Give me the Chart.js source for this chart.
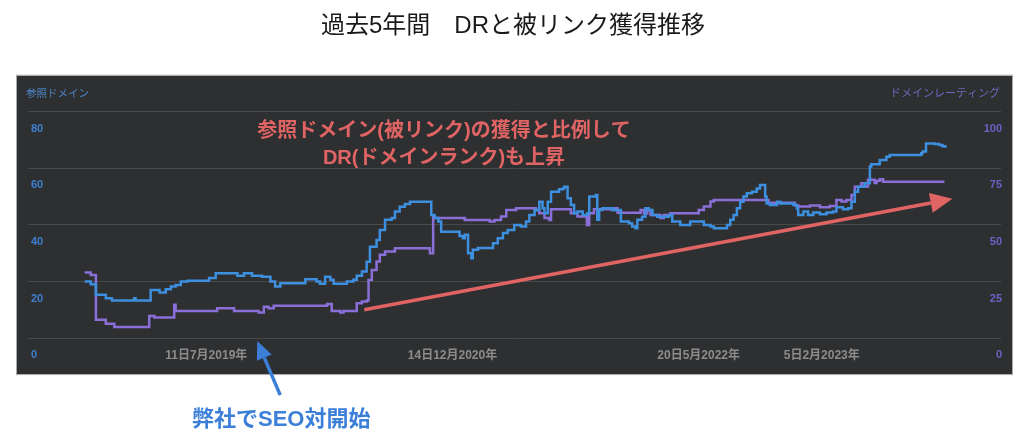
<!DOCTYPE html>
<html lang="ja">
<head>
<meta charset="utf-8">
<script src="https://cdn.jsdelivr.net/npm/chart.js@4.4.1/dist/chart.umd.min.js"></script>
<style>
  html, body { margin: 0; padding: 0; background: #fff; }
  #wrap { position: relative; width: 1024px; height: 442px; }
  canvas { position: absolute; left: 0; top: 0; }
  #title {
    position: absolute; left: 0; top: 10px; width: 1026px; text-align: center;
    font: 24px/30px "Liberation Sans", "Noto Sans CJK JP", sans-serif; color: #1a1a1a;
  }
</style>
</head>
<body>
<div id="wrap">
  <canvas id="chart" width="1024" height="442"></canvas>
  <div id="title">過去5年間　DRと被リンク獲得推移</div>
</div>
<script>
const FONT = '"Liberation Sans", "Noto Sans CJK JP", sans-serif';

// x values are days counted from this date
const epochDate = '2018-06-28';
const xMaxDays = 2063;
const tickDates = ['2019-07-11', '2020-12-14', '2022-05-20', '2023-02-05'];

// referring domains (left axis)
const refDays = [
  120, 133, 144, 165, 178, 225, 228, 260, 279, 292,
  303, 313, 324, 338, 384, 398, 444, 458, 475, 496,
  514, 524, 535, 588, 612, 619, 630, 641, 648, 676,
  690, 697, 708, 718, 725, 739, 746, 757, 771, 778,
  788, 799, 810, 855, 862, 870, 876, 915, 922, 926,
  933, 940, 943, 954, 986, 996, 1007, 1017, 1031, 1045,
  1056, 1063, 1074, 1084, 1091, 1095, 1102, 1109, 1126, 1134,
  1137, 1144, 1151, 1158, 1165, 1176, 1186, 1190, 1204, 1207,
  1211, 1218, 1239, 1257, 1274, 1281, 1288, 1292, 1302, 1309,
  1316, 1324, 1334, 1359, 1366, 1383, 1404, 1433, 1447, 1454,
  1482, 1489, 1496, 1503, 1510, 1517, 1524, 1535, 1545, 1552,
  1563, 1566, 1573, 1588, 1595, 1623, 1630, 1633, 1644, 1654,
  1665, 1679, 1693, 1707, 1714, 1728, 1739, 1746, 1753, 1760,
  1774, 1785, 1788, 1806, 1820, 1827, 1894, 1897, 1904, 1922,
  1932, 1939, 1945
];
const refValues = [
  20, 19, 15.3, 14.1, 13.3, 14.1, 13.3, 17, 16.1, 17.3,
  18.2, 18.8, 20, 20.3, 21.2, 22.9, 22, 22.9, 22, 21.7,
  20, 18.2, 19.4, 20.8, 20, 19.2, 21.7, 20.6, 19.2, 20,
  20.6, 22, 23.5, 27, 32.3, 34.7, 38.2, 41.8, 42.4, 44.7,
  46.4, 47.4, 48.2, 43.5, 42.4, 41.2, 37.6, 36.1, 35.3, 36.5,
  30, 28.2, 31.2, 31.8, 33.5, 35.3, 37.1, 38.2, 40, 39.4,
  41.2, 43.5, 45.3, 48.2, 45.9, 44.1, 48.2, 51.7, 52.6, 52.9,
  53.5, 49.4, 47, 44.1, 44.7, 43.5, 44.1, 50, 50.6, 41.8,
  45.3, 45.9, 45.3, 41.2, 40.6, 39.4, 38.8, 41.8, 42.9, 45.9,
  45.3, 43.5, 42.9, 43.5, 41.2, 40, 41.2, 40, 39.4, 38.8,
  40, 41.8, 43.5, 45.9, 48.2, 50, 51.2, 51.7, 52.9, 54.1,
  50, 47.6, 47, 48.2, 47.6, 47, 45.9, 43.5, 44.7, 43.5,
  44.4, 43.8, 44.4, 44.7, 46.2, 45.5, 45.9, 48.2, 51.7, 53.5,
  54.7, 60.6, 61.4, 62.9, 64.1, 64.7, 65.3, 65.9, 68.8, 68.6,
  68.2, 67.8, 67.3
];

// domain rating (right axis)
const drDays = [
  120, 133, 144, 165, 183, 257, 268, 310, 313, 401,
  437, 489, 500, 510, 521, 634, 644, 662, 669, 697,
  708, 718, 722, 729, 739, 746, 757, 778, 852, 859,
  862, 926, 979, 989, 1003, 1014, 1035, 1077, 1084, 1095,
  1105, 1109, 1151, 1165, 1185, 1190, 1200, 1239, 1243, 1250,
  1299, 1306, 1313, 1320, 1341, 1348, 1362, 1422, 1433, 1447,
  1454, 1570, 1626, 1633, 1658, 1679, 1700, 1714, 1725, 1735,
  1746, 1753, 1767, 1774, 1781, 1795, 1799, 1806, 1813, 1943
];
const drValues = [
  29, 27.9, 8.1, 6.3, 4.9, 9.8, 9.1, 14.7, 12, 13.2,
  12, 11.3, 13.9, 13.2, 14.3, 15.1, 12, 11.3, 12, 15.4,
  16.2, 16.6, 25.7, 30.1, 33.8, 36.8, 38.2, 39.7, 37.5, 53.7,
  53, 52.2, 51.5, 52.2, 53.7, 56.6, 57.4, 56.6, 55.2, 53,
  52.2, 56.9, 55.2, 53.7, 50, 55.2, 56.9, 56.6, 57.4, 55.4,
  56.6, 55, 56.6, 54.4, 53, 54.4, 55.2, 56.6, 58.1, 60.3,
  61, 59.8, 58.7, 58.1, 58.6, 57.8, 58.4, 61, 60.3, 61,
  63.2, 66.9, 68.4, 67, 69.9, 68.5, 69.5, 70.2, 69.1, 69.1
];

const leftAxisTitle = '参照ドメイン';
const rightAxisTitle = 'ドメインレーティング';
const noteLines = ['参照ドメイン(被リンク)の獲得と比例して', 'DR(ドメインランク)も上昇'];
const seoNote = '弊社でSEO対開始';
const seoStartDay = 486;
// trend arrow, [day, referring domains]
const trendFrom = [713, 10];
const trendTo = [1960, 49.2];

const DAY = 864e5;
const epoch = Date.parse(epochDate);
const tickDays = tickDates.map(s => (Date.parse(s) - epoch) / DAY);

function dayLabel(day) {
    const d = new Date(epoch + day * DAY);
    return `${d.getUTCDate()}日${d.getUTCMonth() + 1}月${d.getUTCFullYear()}年`;
}

const toPoints = (days, values) => days.map((x, i) => ({ x, y: values[i] }));

function drawArrow(ctx, x1, y1, x2, y2, color, width, headLen, headHalf) {
    const ang = Math.atan2(y2 - y1, x2 - x1);
    const bx = x2 - headLen * Math.cos(ang);
    const by = y2 - headLen * Math.sin(ang);
    ctx.strokeStyle = color;
    ctx.fillStyle = color;
    ctx.lineWidth = width;
    ctx.beginPath();
    ctx.moveTo(x1, y1);
    ctx.lineTo(bx, by);
    ctx.stroke();
    ctx.beginPath();
    ctx.moveTo(x2, y2);
    ctx.lineTo(bx + headHalf * Math.sin(ang), by - headHalf * Math.cos(ang));
    ctx.lineTo(bx - headHalf * Math.sin(ang), by + headHalf * Math.cos(ang));
    ctx.closePath();
    ctx.fill();
}

const decorations = {
    id: 'decorations',
    beforeDraw(chart) {
        const { ctx, chartArea: a } = chart;
        // dark panel behind the plot
        ctx.save();
        ctx.fillStyle = '#2e2f31';
        ctx.fillRect(a.left - 11, a.top - 36, a.right - a.left + 22, a.bottom - a.top + 72);
        ctx.strokeStyle = '#a9a9a9';
        ctx.lineWidth = 1;
        ctx.strokeRect(a.left - 11.5, a.top - 36.5, a.right - a.left + 23, a.bottom - a.top + 73);
        ctx.restore();
    },
    afterDraw(chart) {
        const { ctx, chartArea: a, scales } = chart;
        ctx.save();

        // axis captions
        ctx.textBaseline = 'middle';
        ctx.font = `10.5px ${FONT}`;
        ctx.fillStyle = '#4a86c8';
        ctx.textAlign = 'left';
        ctx.fillText(leftAxisTitle, a.left - 2, a.top - 18);
        ctx.font = `11px ${FONT}`;
        ctx.fillStyle = '#7068c0';
        ctx.textAlign = 'right';
        ctx.fillText(rightAxisTitle, a.right - 1, a.top - 18);

        // red note and trend arrow
        ctx.fillStyle = '#e06464';
        ctx.textAlign = 'center';
        ctx.font = `bold 20px ${FONT}`;
        ctx.fillText(noteLines[0], 444, 131);
        ctx.fillText(noteLines[1], 444, 158);
        drawArrow(ctx,
            scales.x.getPixelForValue(trendFrom[0]), scales.y.getPixelForValue(trendFrom[1]),
            scales.x.getPixelForValue(trendTo[0]), scales.y.getPixelForValue(trendTo[1]),
            '#e06464', 3.5, 22, 10);

        // SEO start marker
        const sx = scales.x.getPixelForValue(seoStartDay);
        drawArrow(ctx, sx + 23, a.bottom + 57, sx, a.bottom + 3, '#3b7fd9', 3.5, 18, 8);
        ctx.fillStyle = '#3b7fd9';
        ctx.font = `bold 22px ${FONT}`;
        ctx.fillText(seoNote, sx + 24, 420);

        ctx.restore();
    }
};

Chart.defaults.font.family = FONT;

new Chart(document.getElementById('chart'), {
    type: 'line',
    data: {
        datasets: [{
            label: leftAxisTitle,
            data: toPoints(refDays, refValues),
            yAxisID: 'y',
            borderColor: '#3d8fdf',
            borderWidth: 2.5,
            pointRadius: 0,
            stepped: true
        }, {
            label: rightAxisTitle,
            data: toPoints(drDays, drValues),
            yAxisID: 'y1',
            borderColor: '#8a6fd8',
            borderWidth: 2.5,
            pointRadius: 0,
            stepped: true
        }]
    },
    options: {
        responsive: false,
        animation: false,
        layout: { padding: { left: 22, right: 21, top: 111.7, bottom: 69.5 } },
        plugins: {
            legend: { display: false },
            tooltip: { enabled: false }
        },
        scales: {
            x: {
                type: 'linear',
                min: 0,
                max: xMaxDays,
                grid: { display: false, drawTicks: false },
                border: { display: false },
                afterBuildTicks: axis => { axis.ticks = tickDays.map(v => ({ value: v })); },
                ticks: {
                    callback: v => dayLabel(v),
                    color: '#8c8c8c',
                    font: { size: 12, weight: 'bold' },
                    padding: 10,
                    maxRotation: 0,
                    autoSkip: false
                }
            },
            y: {
                position: 'left',
                min: 0,
                max: 80,
                grid: { color: '#48494b', drawTicks: false },
                border: { display: false },
                ticks: {
                    stepSize: 20,
                    mirror: true,
                    labelOffset: 17,
                    padding: 3,
                    color: '#3f7fcf',
                    font: { size: 11, weight: 'bold' }
                }
            },
            y1: {
                position: 'right',
                min: 0,
                max: 100,
                grid: { display: false, drawTicks: false },
                border: { display: false },
                ticks: {
                    stepSize: 25,
                    mirror: true,
                    labelOffset: 17,
                    padding: 1,
                    color: '#6a62c6',
                    font: { size: 11, weight: 'bold' }
                }
            }
        }
    },
    plugins: [decorations]
});
</script>
</body>
</html>
